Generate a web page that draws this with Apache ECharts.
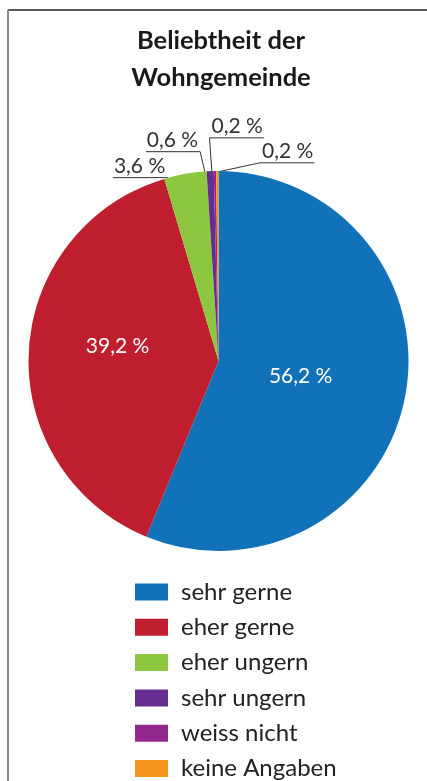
<!DOCTYPE html>
<html>
<head>
<meta charset="utf-8">
<style>html,body{margin:0;padding:0;background:#fff;}#chart{width:427px;height:781px;}</style>
<script src="https://cdn.jsdelivr.net/npm/echarts@6/dist/echarts.min.js"></script>
</head>
<body>
<div id="chart"></div>
<script>
const categories = ['sehr gerne', 'eher gerne', 'eher ungern', 'sehr ungern', 'weiss nicht', 'keine Angaben'];
const values = [56.2, 39.2, 3.6, 0.6, 0.2, 0.2];
const colors = ['#1172BA', '#BE1E2D', '#8DC63F', '#662D91', '#92278F', '#F7941D'];
const titleLines = ['Beliebtheit der', 'Wohngemeinde'];

// label placement styling (offsets relative to slice edge point)
const insideShift = { 0: [-14, -4], 1: [-3, -10] };
const leaders = {
  2: { start: [-2.5, 17.7], elbow: [-18, 3.7], side: -1 },
  3: { start: [-5, 2], elbow: [-10, -19.5], side: -1 },
  4: { start: [-3, 1.5], elbow: [-5.4, -33.2], side: 1 },
  5: { start: [0, 1], elbow: [42.7, -8.2], side: 1 }
};

const fmt = v => v.toFixed(1).replace('.', ',') + ' %';

const data = categories.map((name, i) => {
  const outside = i >= 2;
  return {
    name: name,
    value: values[i],
    itemStyle: { color: colors[i] },
    label: outside
      ? { position: 'outside', color: '#333', fontSize: 21 }
      : { position: 'inside', color: '#fff', fontSize: 21 },
    labelLine: { show: outside, length: 5, length2: 5, smooth: false,
      lineStyle: { color: '#333', width: 1 } }
  };
});

const chart = echarts.init(document.getElementById('chart'), null, { renderer: 'canvas' });
chart.setOption({
  animation: false,
  backgroundColor: '#fff',
  title: {
    text: titleLines.join('\n'),
    left: 221,
    top: 22,
    textAlign: 'center',
    padding: 0,
    textStyle: {
      fontFamily: 'Lato',
      fontWeight: 'bold',
      fontSize: 25.5,
      lineHeight: 37,
      color: '#1a1a1a'
    }
  },
  legend: {
    orient: 'vertical',
    left: 135,
    top: 580,
    height: 220,
    padding: 0,
    itemWidth: 33,
    itemHeight: 17,
    itemGap: 11.3,
    icon: 'rect',
    selectedMode: false,
    data: categories,
    textStyle: {
      fontFamily: 'Lato',
      fontSize: 24,
      lineHeight: 22,
      color: '#222',
      padding: [0, 0, 0, 8]
    }
  },
  graphic: [
    { type: 'line', shape: { x1: 8, y1: 10, x2: 427, y2: 10 }, style: { stroke: '#222', lineWidth: 1.5 }, silent: true },
    { type: 'line', shape: { x1: 8, y1: 10, x2: 8, y2: 781 }, style: { stroke: '#888', lineWidth: 2 }, silent: true }
  ],
  series: [{
    type: 'pie',
    center: [218.5, 361],
    radius: 190,
    startAngle: 90,
    clockwise: true,
    avoidLabelOverlap: false,
    minShowLabelAngle: 0,
    label: {
      show: true,
      fontFamily: 'Lato',
      formatter: p => fmt(p.value)
    },
    labelLayout: function (params) {
      const i = params.dataIndex;
      if (insideShift[i]) {
        return { dx: insideShift[i][0], dy: insideShift[i][1] };
      }
      const ld = leaders[i];
      if (!ld || !params.labelLinePoints) return {};
      const p0 = params.labelLinePoints[0];
      const start = [p0[0] + ld.start[0], p0[1] + ld.start[1]];
      const elbow = [p0[0] + ld.elbow[0], p0[1] + ld.elbow[1]];
      const w = params.labelRect.width;
      const end = [elbow[0] + ld.side * (w + 3), elbow[1]];
      return {
        x: elbow[0] + ld.side * 2,
        y: elbow[1] - 1,
        align: ld.side < 0 ? 'right' : 'left',
        verticalAlign: 'bottom',
        labelLinePoints: [start, elbow, end]
      };
    },
    emphasis: { disabled: true },
    data: data
  }]
});
</script>
</body>
</html>
